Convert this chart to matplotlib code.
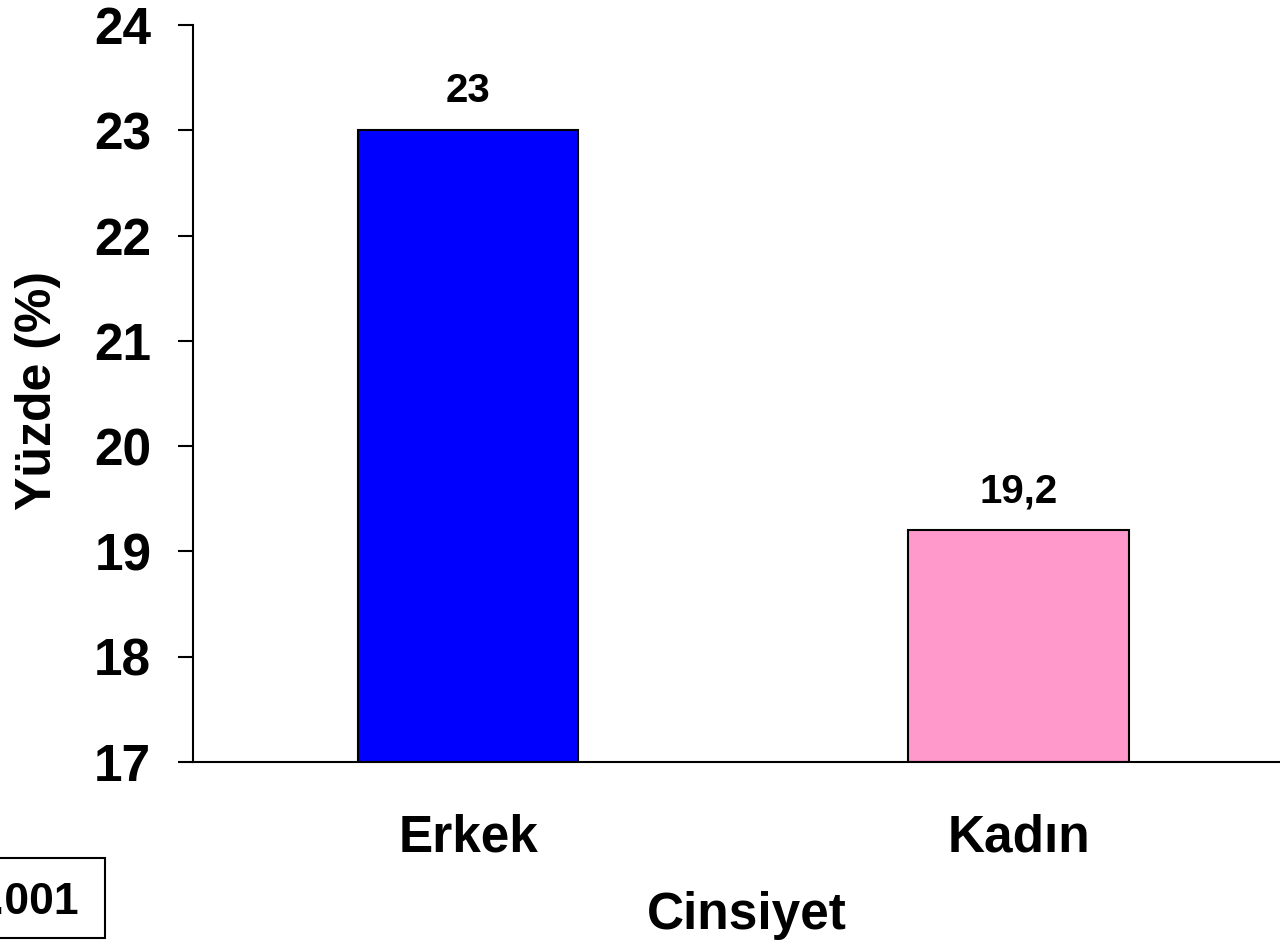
import matplotlib.pyplot as plt
from matplotlib.patches import Rectangle

plt.rcParams['font.family'] = ['Liberation Sans', 'DejaVu Sans']
plt.rcParams['font.weight'] = 'bold'

# data
categories = ['Erkek', 'Kadın']
values = [23.0, 19.2]
value_labels = ['23', '19,2']
colors = ['#0000FF', '#FF99CC']
yticks = [17, 18, 19, 20, 21, 22, 23, 24]

fig = plt.figure(figsize=(12.8, 9.43), dpi=100)
W, H = 1280, 943
ax = fig.add_axes([193 / W, 1 - 762 / H, 1 - 193 / W, (762 - 25) / H])

x = range(len(categories))
ax.bar(x, [v - 17 for v in values], bottom=17, width=0.4, color=colors,
       edgecolor='black', linewidth=1.5)
for xi, v, lab in zip(x, values, value_labels):
    ax.annotate(lab, (xi, v), xytext=(0, 28), textcoords='offset points',
                ha='center', va='center', fontsize=29, fontweight='bold')

ax.set_xlim(-0.5, 1.475)
ax.set_ylim(17, 24)
ax.set_yticks(yticks)
ax.set_xticks(list(x))
ax.set_xticklabels(categories)
ax.tick_params(axis='y', direction='out', length=11, width=1.5, labelsize=37, pad=19)
ax.tick_params(axis='x', length=0, labelsize=37, pad=37)
for lab in ax.get_xticklabels() + ax.get_yticklabels():
    lab.set_fontweight('bold')
ax.spines['top'].set_visible(False)
ax.spines['right'].set_visible(False)
ax.spines['left'].set_linewidth(1.5)
ax.spines['bottom'].set_linewidth(1.5)

# axis titles placed in figure pixels
fig.text(747 / W, 1 - 915 / H, 'Cinsiyet', ha='center', va='center',
         fontsize=37, fontweight='bold')
fig.text(38 / W, 1 - 390 / H, 'Yüzde (%)', ha='center', va='center',
         rotation=90, fontsize=36, fontweight='bold')

# p-value box, partly cut off at the left edge
fig.patches.append(Rectangle((-20 / W, 1 - 938 / H), 125 / W, 80 / H,
                             transform=fig.transFigure, fill=False,
                             edgecolor='black', linewidth=1.5))
fig.text(79 / W, 1 - 914 / H, 'p<0.001', ha='right', va='baseline',
         fontsize=32, fontweight='bold')

fig.savefig('out.png', dpi=100)
